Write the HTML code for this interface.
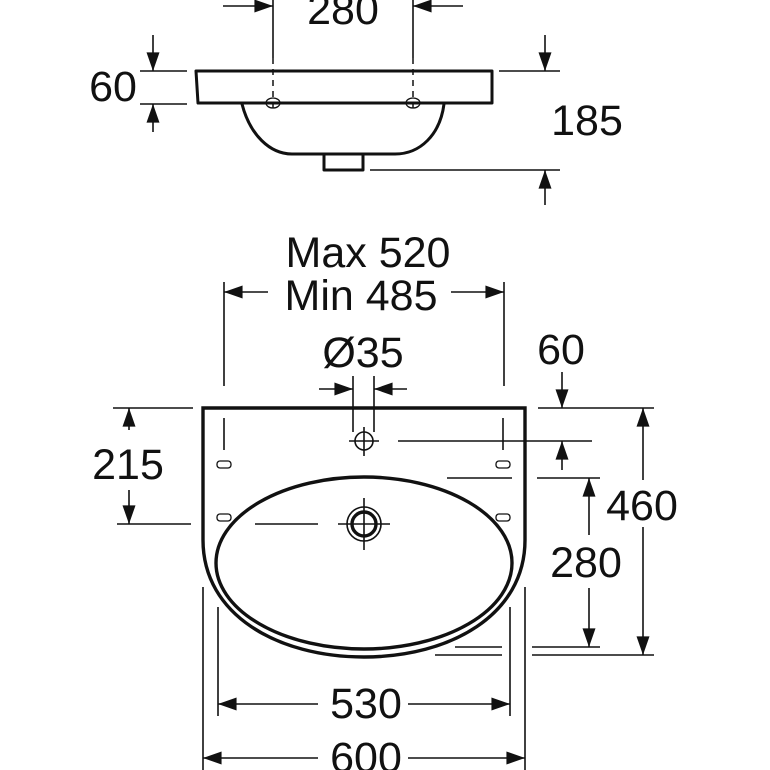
<!DOCTYPE html>
<html><head><style>
html,body{margin:0;padding:0;background:#fff;width:770px;height:770px;overflow:hidden}
svg{display:block}
text{font-family:"Liberation Sans",Arial,sans-serif;font-size:43px;fill:#111;text-anchor:middle}
</style></head><body>
<svg width="770" height="770" viewBox="0 0 770 770" xmlns="http://www.w3.org/2000/svg">
<defs>
<marker id="a" viewBox="0 0 20 14" refX="20" refY="7" markerWidth="19" markerHeight="13" markerUnits="userSpaceOnUse" orient="auto"><path d="M0,0 L20,7 L0,14 Z" fill="#111"/></marker>
</defs>
<g stroke="#111" stroke-width="1.6" fill="none">
<!-- TOP VIEW -->
<line x1="273" y1="0" x2="273" y2="58"/><line x1="413" y1="0" x2="413" y2="58"/>
<line x1="223" y1="6" x2="273" y2="6" marker-end="url(#a)"/>
<line x1="463" y1="6" x2="413" y2="6" marker-end="url(#a)"/>
<line x1="140" y1="71" x2="187" y2="71"/><line x1="140" y1="104" x2="187" y2="104"/>
<line x1="153" y1="35" x2="153" y2="71" marker-end="url(#a)"/>
<line x1="153" y1="132" x2="153" y2="104" marker-end="url(#a)"/>
<line x1="499" y1="71" x2="560" y2="71"/><line x1="370" y1="170" x2="560" y2="170"/>
<line x1="545" y1="35" x2="545" y2="71" marker-end="url(#a)"/>
<line x1="545" y1="205" x2="545" y2="170" marker-end="url(#a)"/>
<!-- PLAN dims -->
<line x1="224" y1="282" x2="224" y2="386"/><line x1="504" y1="282" x2="504" y2="386"/>
<line x1="268" y1="292" x2="224" y2="292" marker-end="url(#a)"/>
<line x1="451" y1="292" x2="504" y2="292" marker-end="url(#a)"/>
<line x1="353" y1="376" x2="353" y2="432"/><line x1="374" y1="376" x2="374" y2="432"/>
<line x1="319" y1="389" x2="353" y2="389" marker-end="url(#a)"/>
<line x1="407" y1="389" x2="374" y2="389" marker-end="url(#a)"/>
<line x1="113" y1="408" x2="193" y2="408"/><line x1="117" y1="524" x2="191" y2="524"/>
<line x1="129" y1="430" x2="129" y2="408" marker-end="url(#a)"/>
<line x1="129" y1="490" x2="129" y2="524" marker-end="url(#a)"/>
<line x1="538" y1="408" x2="654" y2="408"/>
<line x1="398" y1="441" x2="592" y2="441"/>
<line x1="447" y1="478" x2="512" y2="478"/><line x1="537" y1="478" x2="600" y2="478"/>
<line x1="455" y1="647" x2="502" y2="647"/><line x1="435" y1="655" x2="502" y2="655"/>
<line x1="532" y1="647" x2="600" y2="647"/><line x1="532" y1="655" x2="654" y2="655"/>
<line x1="562" y1="372" x2="562" y2="408" marker-end="url(#a)"/>
<line x1="562" y1="470" x2="562" y2="441" marker-end="url(#a)"/>
<line x1="589" y1="535" x2="589" y2="478" marker-end="url(#a)"/>
<line x1="589" y1="588" x2="589" y2="647" marker-end="url(#a)"/>
<line x1="643" y1="480" x2="643" y2="408" marker-end="url(#a)"/>
<line x1="643" y1="527" x2="643" y2="655" marker-end="url(#a)"/>
<line x1="218" y1="607" x2="218" y2="716"/><line x1="510" y1="607" x2="510" y2="716"/>
<line x1="203" y1="587" x2="203" y2="770"/><line x1="525" y1="587" x2="525" y2="770"/>
<line x1="318" y1="704" x2="218" y2="704" marker-end="url(#a)"/>
<line x1="408" y1="704" x2="510" y2="704" marker-end="url(#a)"/>
<line x1="318" y1="758" x2="203" y2="758" marker-end="url(#a)"/>
<line x1="408" y1="758" x2="525" y2="758" marker-end="url(#a)"/>
<!-- centre lines plan -->
<line x1="224" y1="418" x2="224" y2="450"/><line x1="503" y1="418" x2="503" y2="450"/>
<line x1="255" y1="524" x2="318" y2="524"/>
<line x1="364" y1="427" x2="364" y2="456"/><line x1="349" y1="441" x2="379" y2="441"/>
<line x1="364" y1="498" x2="364" y2="550"/><line x1="338" y1="524" x2="390" y2="524"/>
</g>
<!-- top view shape -->
<g stroke="#111" stroke-width="3" fill="none" stroke-linejoin="round">
<path d="M196,71 H492 V103 H198 Z"/>
<path d="M242,104 C250,135 270,154 292,154 H395 C420,154 440,135 444,104"/>
<path d="M324,154 V170 H363 V154"/>
</g>
<g stroke="#111" stroke-width="1.5" fill="none" stroke-dasharray="6,5">
<line x1="273" y1="58" x2="273" y2="110"/><line x1="413" y1="58" x2="413" y2="110"/>
</g>
<g stroke="#111" stroke-width="1.3" fill="none">
<ellipse cx="273" cy="103" rx="7" ry="5"/><ellipse cx="413" cy="103" rx="7" ry="5"/>
</g>
<!-- plan shape -->
<g stroke="#111" stroke-width="3.4" fill="none">
<path d="M203,408 H525 V540 C525,615 450,657 364,657 C278,657 203,615 203,540 Z"/>
<ellipse cx="364" cy="563" rx="148" ry="86"/>
<circle cx="364" cy="524" r="12"/>
</g>
<g stroke="#111" stroke-width="1.6" fill="none">
<circle cx="364" cy="441" r="9"/>
<circle cx="364" cy="524" r="17"/>
<g stroke-width="1.3">
<rect x="217" y="461" width="14" height="7" rx="3"/><rect x="496" y="461" width="14" height="7" rx="3"/>
<rect x="217" y="514" width="14" height="7" rx="3"/><rect x="496" y="514" width="14" height="7" rx="3"/>
</g>
</g>
<!-- text -->
<text x="343" y="24">280</text>
<text x="113" y="101">60</text>
<text x="587" y="135">185</text>
<text x="368" y="267">Max 520</text>
<text x="361" y="310">Min 485</text>
<text x="363" y="367">Ø35</text>
<text x="561" y="364">60</text>
<text x="128" y="479">215</text>
<text x="642" y="520">460</text>
<text x="586" y="577">280</text>
<text x="366" y="718">530</text>
<text x="366" y="772">600</text>
</svg>
</body></html>
